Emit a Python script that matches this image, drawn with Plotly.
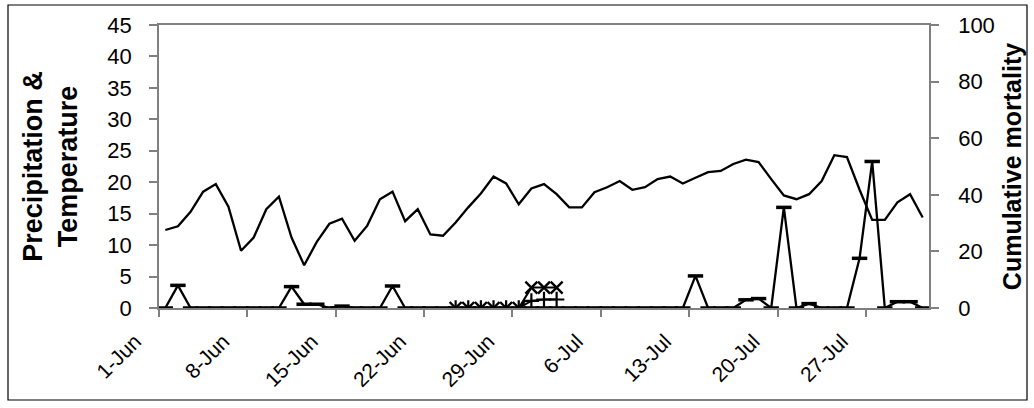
import plotly.graph_objects as go

# ---- data (day index 0 = 1-Jun, 60 = 31-Jul) ----
days = list(range(61))
tick_labels = ["1-Jun", "8-Jun", "15-Jun", "22-Jun", "29-Jun", "6-Jul", "13-Jul", "20-Jul", "27-Jul"]
tick_days = [0, 7, 14, 21, 28, 35, 42, 49, 56]

temperature = [12.4, 13.0, 15.3, 18.5, 19.7, 16.1, 9.1, 11.2, 15.7, 17.7,
               11.2, 6.8, 10.5, 13.4, 14.2, 10.7, 13.1, 17.3, 18.5, 13.8,
               15.7, 11.7, 11.5, 13.6, 16.0, 18.2, 20.9, 19.8, 16.5, 19.0,
               19.7, 18.1, 16.0, 16.0, 18.4, 19.2, 20.2, 18.8, 19.2, 20.5,
               20.9, 19.8, 20.7, 21.6, 21.8, 22.9, 23.6, 23.2, 20.5, 17.9,
               17.3, 18.1, 20.2, 24.3, 24.0, 18.8, 14.0, 14.0, 16.8, 18.1, 14.4]

precipitation = [0, 3.6, 0, 0, 0, 0, 0, 0, 0, 0,
                 3.4, 0.6, 0.6, 0, 0.3, 0, 0, 0, 3.5, 0,
                 0, 0, 0, 0, 0, 0, 0, 0, 0, 0,
                 0, 0, 0, 0, 0, 0, 0, 0, 0, 0,
                 0, 0, 5.1, 0, 0, 0, 1.3, 1.5, 0, 16.0,
                 0, 0.7, 0, 0, 0, 7.9, 23.3, 0, 1.0, 1.0, 0]

mort_days = [23, 24, 25, 26, 27, 28, 29, 30, 31]
mortality_a = [0, 0, 0, 0, 0, 0, 7.2, 7.2, 7.2]   # x markers
mortality_b = [0, 0, 0, 0, 0, 0, 2.5, 3.0, 3.0]   # + markers

AX = "#808080"
FONT = "Liberation Sans, Arial, sans-serif"

# layout geometry
W, H = 1034, 408
ML, MR, MT, MB = 100, 105, 25, 100
plot_w = W - ML - MR
axis_left_px = 159
dom_start = (axis_left_px - ML) / plot_w
x_lo, x_hi = -0.5, 60.5
px_per_day = (plot_w * (1 - dom_start)) / (x_hi - x_lo)
x2_lo = x_lo - (axis_left_px - ML) / px_per_day
label_offset = 1.9

fig = go.Figure()
# invisible trace carrying the label axis (added first so it sits underneath)
fig.add_trace(go.Scatter(x=[30], y=[0], xaxis="x2", yaxis="y", mode="markers",
                         marker=dict(opacity=0), hoverinfo="skip", showlegend=False))
fig.add_trace(go.Scatter(x=days, y=temperature, mode="lines",
                         line=dict(color="black", width=2.3), showlegend=False))
fig.add_trace(go.Scatter(x=days, y=precipitation, mode="lines+markers",
                         line=dict(color="black", width=2.3),
                         marker=dict(symbol="line-ew", size=11, line=dict(color="black", width=3.5)),
                         showlegend=False))
fig.add_trace(go.Scatter(x=mort_days, y=mortality_a, mode="lines+markers", yaxis="y2",
                         line=dict(color="black", width=2),
                         marker=dict(symbol="x-thin", size=12, line=dict(color="black", width=2.4)),
                         showlegend=False))
fig.add_trace(go.Scatter(x=mort_days, y=mortality_b, mode="lines+markers", yaxis="y2",
                         line=dict(color="black", width=2),
                         marker=dict(symbol="cross-thin", size=11, line=dict(color="black", width=2.2)),
                         showlegend=False))

fig.update_layout(
    width=W, height=H,
    margin=dict(l=ML, r=MR, t=MT, b=MB),
    paper_bgcolor="white", plot_bgcolor="rgba(0,0,0,0)",
    font=dict(family=FONT, color="black", size=20),
    xaxis=dict(domain=[dom_start, 1], range=[x_lo, x_hi], tickmode="array",
               tickvals=[d - 0.5 for d in tick_days], showticklabels=False,
               ticks="outside", ticklen=7, tickcolor=AX, tickwidth=1.5,
               showline=True, linecolor=AX, linewidth=1.5, mirror=True,
               showgrid=False, zeroline=False, anchor="y"),
    xaxis2=dict(domain=[0, 1], range=[x2_lo, x_hi], anchor="y", side="bottom",
                tickmode="array", tickvals=[d - 0.5 - label_offset for d in tick_days],
                ticktext=tick_labels, tickangle=-45, ticks="", showline=False,
                showgrid=False, zeroline=False, ticklabelstandoff=16,
                tickfont=dict(size=21, family=FONT, color="black")),
    yaxis=dict(range=[0, 45], dtick=5, anchor="x", ticks="outside", ticklen=8,
               tickcolor=AX, tickwidth=1.5,
               showline=True, linecolor=AX, linewidth=1.5, showgrid=False, zeroline=False,
               ticklabelstandoff=13, tickfont=dict(size=22, family=FONT, color="black"),
               title=dict(text="<b>Precipitation &<br>Temperature</b>", standoff=22,
                          font=dict(size=27, family=FONT, color="black"))),
    yaxis2=dict(range=[0, 100], dtick=20, overlaying="y", anchor="x", side="right",
                ticks="outside", ticklen=8, tickcolor=AX, tickwidth=1.5, showline=True,
                linecolor=AX, linewidth=1.5, showgrid=False, zeroline=False,
                ticklabelstandoff=15, tickfont=dict(size=22, family=FONT, color="black"),
                title=dict(text="<b>Cumulative mortality</b>", standoff=10,
                           font=dict(size=25, family=FONT, color="black"))),
    shapes=[dict(type="rect", xref="paper", yref="paper",
                 x0=(8 - ML) / plot_w, x1=(1027 - ML) / plot_w,
                 y0=(H - MB - 400) / (H - MT - MB), y1=(H - MB - 5) / (H - MT - MB),
                 line=dict(color="black", width=1.2), fillcolor="rgba(0,0,0,0)", layer="below")],
)

fig.write_html("out.html")
